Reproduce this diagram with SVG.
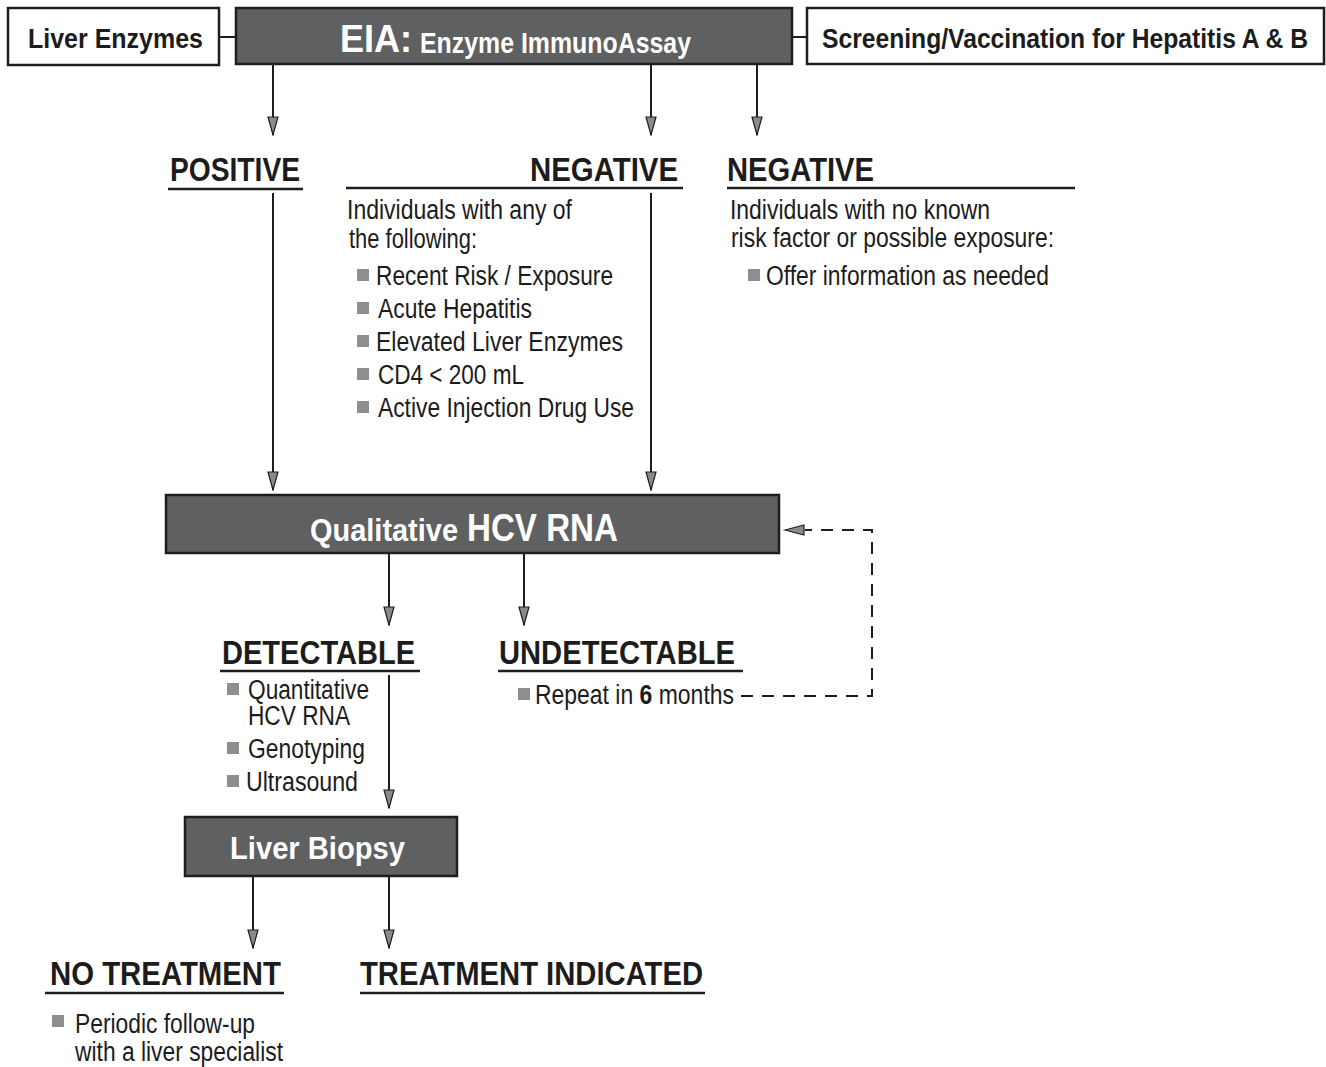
<svg xmlns="http://www.w3.org/2000/svg" width="1326" height="1067" viewBox="0 0 1326 1067">
<defs>
<style>
text{font-family:"Liberation Sans Narrow","Liberation Sans",Arial,sans-serif;fill:#1c1c1c}
.b{font-weight:bold}
.w{fill:#fff;font-weight:bold}
.h{font-weight:bold;font-size:34px}
.t{font-size:27px}
.dark{fill:#5f6062;stroke:#1e1e1e;stroke-width:2.5}
.light{fill:#fff;stroke:#1e1e1e;stroke-width:2.5}
.ln{stroke:#1e1e1e;stroke-width:2;fill:none}
.ul{stroke:#1e1e1e;stroke-width:2.5}
.sq{fill:#8e8e8e}
</style>
<marker id="ah" markerUnits="userSpaceOnUse" markerWidth="20" markerHeight="12" refX="19" refY="6" orient="auto" viewBox="0 0 20 12">
<path d="M1,1 L19,6 L1,11 Z" fill="#8a8a8a" stroke="#1e1e1e" stroke-width="1.2"/>
</marker>
</defs>

<g id="connectors">
<line class="ln" x1="219" y1="37" x2="236" y2="37"/>
<line class="ln" x1="792" y1="37" x2="807" y2="37"/>
<line class="ln" x1="273" y1="64" x2="273" y2="135" marker-end="url(#ah)"/>
<line class="ln" x1="651" y1="64" x2="651" y2="135" marker-end="url(#ah)"/>
<line class="ln" x1="757" y1="64" x2="757" y2="135" marker-end="url(#ah)"/>
<line class="ln" x1="273" y1="193" x2="273" y2="490" marker-end="url(#ah)"/>
<line class="ln" x1="651" y1="193" x2="651" y2="490" marker-end="url(#ah)"/>
<line class="ln" x1="389" y1="553" x2="389" y2="625" marker-end="url(#ah)"/>
<line class="ln" x1="524" y1="553" x2="524" y2="625" marker-end="url(#ah)"/>
<line class="ln" x1="389" y1="675" x2="389" y2="808" marker-end="url(#ah)"/>
<line class="ln" x1="253" y1="876" x2="253" y2="948" marker-end="url(#ah)"/>
<line class="ln" x1="389" y1="876" x2="389" y2="948" marker-end="url(#ah)"/>
<polyline class="ln" points="741,696 872,696 872,530 805,530" stroke-dasharray="12,9"/>
<path d="M785,530 L804,525 L804,535 Z" fill="#8a8a8a" stroke="#1e1e1e" stroke-width="1.2"/>
</g>

<g id="liver-enzymes">
<rect class="light" x="8" y="8" width="211" height="57"/>
<text class="b" x="28" y="48" font-size="28" textLength="175" lengthAdjust="spacingAndGlyphs">Liver Enzymes</text>
</g>
<g id="eia">
<rect class="dark" x="236" y="8" width="556" height="56"/>
<text class="w" x="340" y="52" font-size="39" textLength="72" lengthAdjust="spacingAndGlyphs">EIA:</text>
<text class="w" x="420" y="53" font-size="29" textLength="271" lengthAdjust="spacingAndGlyphs">Enzyme ImmunoAssay</text>
</g>
<g id="screening">
<rect class="light" x="807" y="8" width="517" height="56"/>
<text class="b" x="822" y="48" font-size="28" textLength="486" lengthAdjust="spacingAndGlyphs">Screening/Vaccination for Hepatitis A &amp; B</text>
</g>

<g id="positive">
<text class="h" x="170" y="181" textLength="130" lengthAdjust="spacingAndGlyphs">POSITIVE</text>
<line class="ul" x1="168" y1="189" x2="303" y2="189"/>
</g>

<g id="negative-risk">
<text class="h" x="530" y="181" textLength="148" lengthAdjust="spacingAndGlyphs">NEGATIVE</text>
<line class="ul" x1="346" y1="188" x2="683" y2="188"/>
<text class="t" x="347" y="219" textLength="225" lengthAdjust="spacingAndGlyphs">Individuals with any of</text>
<text class="t" x="349" y="248" textLength="128" lengthAdjust="spacingAndGlyphs">the following:</text>
<rect class="sq" x="357" y="269" width="12" height="12"/>
<text class="t" x="376" y="285" textLength="237" lengthAdjust="spacingAndGlyphs">Recent Risk / Exposure</text>
<rect class="sq" x="357" y="302" width="12" height="12"/>
<text class="t" x="378" y="318" textLength="154" lengthAdjust="spacingAndGlyphs">Acute Hepatitis</text>
<rect class="sq" x="357" y="335" width="12" height="12"/>
<text class="t" x="376" y="351" textLength="247" lengthAdjust="spacingAndGlyphs">Elevated Liver Enzymes</text>
<rect class="sq" x="357" y="368" width="12" height="12"/>
<text class="t" x="378" y="384" textLength="146" lengthAdjust="spacingAndGlyphs">CD4 &lt; 200 mL</text>
<rect class="sq" x="357" y="401" width="12" height="12"/>
<text class="t" x="378" y="417" textLength="256" lengthAdjust="spacingAndGlyphs">Active Injection Drug Use</text>
</g>

<g id="negative-norisk">
<text class="h" x="727" y="181" textLength="147" lengthAdjust="spacingAndGlyphs">NEGATIVE</text>
<line class="ul" x1="727" y1="188" x2="1075" y2="188"/>
<text class="t" x="730" y="219" textLength="260" lengthAdjust="spacingAndGlyphs">Individuals with no known</text>
<text class="t" x="731" y="247" textLength="323" lengthAdjust="spacingAndGlyphs">risk factor or possible exposure:</text>
<rect class="sq" x="748" y="269" width="12" height="12"/>
<text class="t" x="766" y="285" textLength="283" lengthAdjust="spacingAndGlyphs">Offer information as needed</text>
</g>

<g id="qualitative">
<rect class="dark" x="166" y="495" width="613" height="58"/>
<text class="w" x="310" y="541" font-size="31" textLength="148" lengthAdjust="spacingAndGlyphs">Qualitative</text>
<text class="w" x="467" y="541" font-size="38" textLength="151" lengthAdjust="spacingAndGlyphs">HCV RNA</text>
</g>

<g id="detectable">
<text class="h" x="222" y="664" textLength="193" lengthAdjust="spacingAndGlyphs">DETECTABLE</text>
<line class="ul" x1="220" y1="671" x2="420" y2="671"/>
<rect class="sq" x="227" y="683" width="12" height="12"/>
<text class="t" x="248" y="699" textLength="121" lengthAdjust="spacingAndGlyphs">Quantitative</text>
<text class="t" x="248" y="725" textLength="102" lengthAdjust="spacingAndGlyphs">HCV RNA</text>
<rect class="sq" x="227" y="742" width="12" height="12"/>
<text class="t" x="248" y="758" textLength="117" lengthAdjust="spacingAndGlyphs">Genotyping</text>
<rect class="sq" x="227" y="775" width="12" height="12"/>
<text class="t" x="246" y="791" textLength="112" lengthAdjust="spacingAndGlyphs">Ultrasound</text>
</g>

<g id="undetectable">
<text class="h" x="499" y="664" textLength="236" lengthAdjust="spacingAndGlyphs">UNDETECTABLE</text>
<line class="ul" x1="498" y1="671" x2="743" y2="671"/>
<rect class="sq" x="518" y="688" width="12" height="12"/>
<text class="t" x="535" y="704" textLength="199" lengthAdjust="spacingAndGlyphs">Repeat in <tspan font-weight="bold">6</tspan> months</text>
</g>

<g id="liver-biopsy">
<rect class="dark" x="185" y="817" width="272" height="59"/>
<text class="w" x="230" y="859" font-size="32" textLength="175" lengthAdjust="spacingAndGlyphs">Liver Biopsy</text>
</g>

<g id="no-treatment">
<text class="h" x="50" y="985" textLength="231" lengthAdjust="spacingAndGlyphs">NO TREATMENT</text>
<line class="ul" x1="45" y1="993" x2="284" y2="993"/>
<rect class="sq" x="52" y="1015" width="12" height="12"/>
<text class="t" x="75" y="1033" textLength="180" lengthAdjust="spacingAndGlyphs">Periodic follow-up</text>
<text class="t" x="75" y="1061" textLength="208" lengthAdjust="spacingAndGlyphs">with a liver specialist</text>
</g>

<g id="treatment-indicated">
<text class="h" x="360" y="985" textLength="343" lengthAdjust="spacingAndGlyphs">TREATMENT INDICATED</text>
<line class="ul" x1="360" y1="993" x2="705" y2="993"/>
</g>
</svg>
